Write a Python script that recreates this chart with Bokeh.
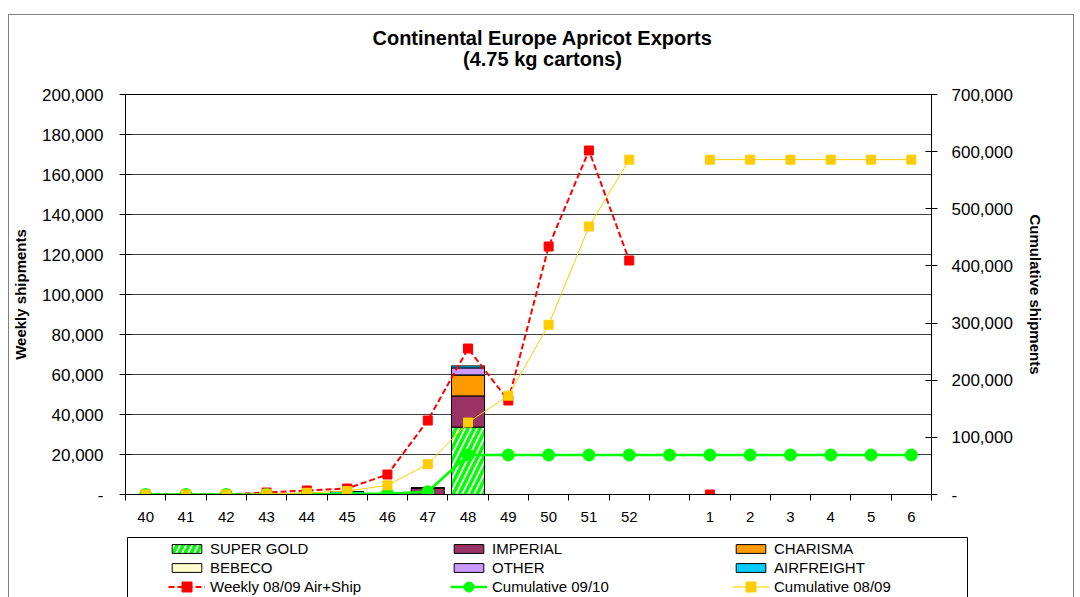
from bokeh.plotting import figure
from bokeh.layouts import column
from bokeh.models import (Range1d, LinearAxis, FixedTicker, CustomJSTickFormatter,
                          Legend, LegendItem, Label, BoxAnnotation, ColumnDataSource,
                          InlineStyleSheet)
from bokeh.embed import file_html
from bokeh.resources import INLINE

nan = float("nan")

# ---------------- data ----------------
weeks = ["40", "41", "42", "43", "44", "45", "46", "47", "48", "49", "50", "51", "52",
         " ", "1", "2", "3", "4", "5", "6"]
super_gold = [0, 0, 0, 0, 0, 0, 0, 0, 33700, 0, 0, 0, 0, 0, 0, 0, 0, 0, 0, 0]
imperial   = [0, 0, 0, 0, 0, 0, 0, 3300, 15600, 0, 0, 0, 0, 0, 0, 0, 0, 0, 0, 0]
charisma   = [0, 0, 0, 0, 0, 0, 0, 0, 10500, 0, 0, 0, 0, 0, 0, 0, 0, 0, 0, 0]
bebeco     = [0, 0, 0, 0, 0, 0, 0, 0, 0, 0, 0, 0, 0, 0, 0, 0, 0, 0, 0, 0]
other      = [0, 0, 0, 0, 0, 0, 0, 0, 3500, 0, 0, 0, 0, 0, 0, 0, 0, 0, 0, 0]
airfreight = [0, 0, 0, 0, 0, 1500, 0, 0, 1000, 0, 0, 0, 0, 0, 0, 0, 0, 0, 0, 0]
weekly_0809 = [0, 0, 0, 1000, 2000, 3000, 10000, 37000, 73000, 47000, 124000, 172000,
               117000, nan, 0, nan, nan, nan, nan, nan]
cum_0910 = [0, 0, 0, 0, 0, 1500, 1500, 4800, 69100, 69100, 69100, 69100, 69100,
            69100, 69100, 69100, 69100, 69100, 69100, 69100]
cum_0809 = [0, 0, 0, 1000, 3000, 6000, 16000, 53000, 126000, 173000, 297000, 469000,
            586000, nan, 586000, 586000, 586000, 586000, 586000, 586000]

bar_names = ["SUPER GOLD", "IMPERIAL", "CHARISMA", "BEBECO", "OTHER", "AIRFREIGHT"]
bar_colors = ["#FFFFFF", "#993366", "#FF9900", "#FFFFCC", "#CC99FF", "#00CCFF"]
line_names = ["Weekly 08/09 Air+Ship", "Cumulative 09/10", "Cumulative 08/09"]
left_ticks = list(range(0, 200001, 20000))
right_ticks = list(range(0, 700001, 100000))
title_lines = ["Continental Europe Apricot Exports", "(4.75 kg cartons)"]

FONT = "Liberation Sans"
INK = "#000000"
W = 1076
HATCH = dict(hatch_pattern="/", hatch_color="#00FF00", hatch_weight=3.5, hatch_scale=12)
RED = dict(color="#FF0000")
GREEN = dict(color="#00FF00")
YELLOW = dict(color="#FFCC00")
NOBORDER = dict(min_border=0, min_border_left=0, min_border_right=0,
                min_border_top=0, min_border_bottom=0)

# ---------------- header (title) ----------------
ph = figure(width=W, height=84, output_backend="svg", toolbar_location=None,
            x_range=Range1d(0, W), y_range=Range1d(84, 0),
            x_axis_location=None, y_axis_location=None, **NOBORDER)
ph.outline_line_color = None
ph.grid.visible = False
for txt, yy in zip(title_lines, [37, 58]):
    ph.add_layout(Label(x=542, y=yy, text=txt, text_align="center",
                        text_baseline="middle", text_font=FONT, text_color=INK,
                        text_font_style="bold", text_font_size="20px"))

# ---------------- main chart ----------------
x = list(range(len(weeks)))
src = ColumnDataSource(dict(x=x, s0=super_gold, s1=imperial, s2=charisma,
                            s3=bebeco, s4=other, s5=airfreight))

p = figure(width=W, height=446, output_backend="svg", toolbar_location=None,
           x_range=Range1d(-0.5, len(weeks) - 0.5), y_range=Range1d(0, 200000),
           min_border_left=125, min_border_right=W - 931, min_border_top=10,
           min_border_bottom=36)
p.extra_y_ranges = {"cum": Range1d(0, 700000)}
p.outline_line_color = "black"
p.xgrid.visible = False
p.ygrid.grid_line_color = "#404040"
p.ygrid.grid_line_width = 1

num_fmt = CustomJSTickFormatter(code="return tick == 0 ? '-' : Math.round(tick).toLocaleString('en-US');")


def style_y(ax, label_standoff, axis_standoff):
    ax.axis_label_text_font = FONT
    ax.axis_label_text_font_style = "bold"
    ax.axis_label_text_font_size = "15px"
    ax.axis_label_text_color = INK
    ax.axis_label_standoff = axis_standoff
    ax.major_label_text_font = FONT
    ax.major_label_text_font_size = "17px"
    ax.major_label_text_color = INK
    ax.major_label_standoff = label_standoff
    ax.major_tick_in = 6
    ax.major_tick_out = 6
    ax.major_tick_line_color = "black"
    ax.minor_tick_line_color = None
    ax.axis_line_color = "black"


la = p.yaxis[0]
la.ticker = FixedTicker(ticks=left_ticks)
la.formatter = num_fmt
la.axis_label = "Weekly shipments"
style_y(la, 16, 10)

ra = LinearAxis(y_range_name="cum", ticker=FixedTicker(ticks=right_ticks),
                formatter=num_fmt, axis_label="Cumulative shipments")
style_y(ra, 14, 11)
p.add_layout(ra, "right")

xa = p.xaxis[0]
xa.ticker = FixedTicker(ticks=x, minor_ticks=[i - 0.5 for i in range(len(weeks) + 1)])
xa.formatter = CustomJSTickFormatter(args=dict(labels=weeks),
                                     code="return labels[Math.round(tick)] || '';")
xa.major_tick_line_color = None
xa.major_tick_in = 0
xa.major_tick_out = 0
xa.minor_tick_in = 0
xa.minor_tick_out = 6
xa.minor_tick_line_color = "black"
xa.major_label_standoff = 7
xa.major_label_text_font = FONT
xa.major_label_text_font_size = "15px"
xa.major_label_text_color = INK
xa.axis_line_color = "black"

bars = p.vbar_stack(["s0", "s1", "s2", "s3", "s4", "s5"], x="x", width=0.82,
                    fill_color=bar_colors, line_color="black", line_width=1, source=src)
for k, v in HATCH.items():
    setattr(bars[0].glyph, k, v)

p.line(x, weekly_0809, line_width=2, line_dash="6 3", **RED)
p.scatter(x, weekly_0809, marker="square", size=9, **RED)
p.line(x, cum_0910, y_range_name="cum", line_width=2.5, **GREEN)
p.scatter(x, cum_0910, y_range_name="cum", marker="circle", size=12, **GREEN)
p.line(x, cum_0809, y_range_name="cum", line_width=1, **YELLOW)
p.scatter(x, cum_0809, y_range_name="cum", marker="square", size=9, **YELLOW)

# ---------------- legend strip ----------------
pl = figure(width=W, height=67, output_backend="svg", toolbar_location=None,
            x_range=Range1d(0, W), y_range=Range1d(67, 0),
            x_axis_location=None, y_axis_location=None, **NOBORDER)
pl.outline_line_color = None
pl.grid.visible = False
empty = ColumnDataSource(dict(x=[nan], y=[nan]))
bar_items = []
for i, (n, c) in enumerate(zip(bar_names, bar_colors)):
    extra = HATCH if i == 0 else {}
    r = pl.vbar(x="x", top="y", width=1, source=empty, fill_color=c,
                line_color="black", line_width=1, **extra)
    bar_items.append(LegendItem(label=n, renderers=[r]))
line_items = []
specs = [(RED, dict(line_width=2, line_dash="6 3"), dict(marker="square", size=9)),
         (GREEN, dict(line_width=2.5), dict(marker="circle", size=12)),
         (YELLOW, dict(line_width=1.5, line_alpha=0.7), dict(marker="square", size=9))]
for n, (col, lkw, mkw) in zip(line_names, specs):
    rl = pl.line(x="x", y="y", source=empty, **col, **lkw)
    rm = pl.scatter(x="x", y="y", source=empty, **col, **mkw)
    line_items.append(LegendItem(label=n, renderers=[rl, rm]))

pl.add_layout(BoxAnnotation(left=127, right=967, top=7, bottom=90,
                            fill_alpha=0, line_color="black", line_alpha=1, line_width=1))
common = dict(orientation="horizontal", ncols=3, glyph_width=37, label_standoff=5,
              label_width=238, label_height=15, spacing=2, padding=0, margin=0,
              border_line_color=None, background_fill_alpha=0,
              label_text_font=FONT, label_text_font_size="15px", label_text_color=INK)
pl.add_layout(Legend(items=bar_items, location=(168, 21), glyph_height=11, **common))
pl.add_layout(Legend(items=line_items, location=(168, -1.5), glyph_height=25, **common))

layout = column(column(ph), column(p), column(pl), spacing=0)
layout.stylesheets = [InlineStyleSheet(css=(
    ":host { position: relative; }"
    ":host::after { content: ''; position: absolute; left: 8px; top: 14px; "
    "width: 1066px; height: 600px; border: 1px solid #808080; "
    "pointer-events: none; box-sizing: border-box; }"))]
open("out.html", "w").write(file_html(layout, INLINE))
